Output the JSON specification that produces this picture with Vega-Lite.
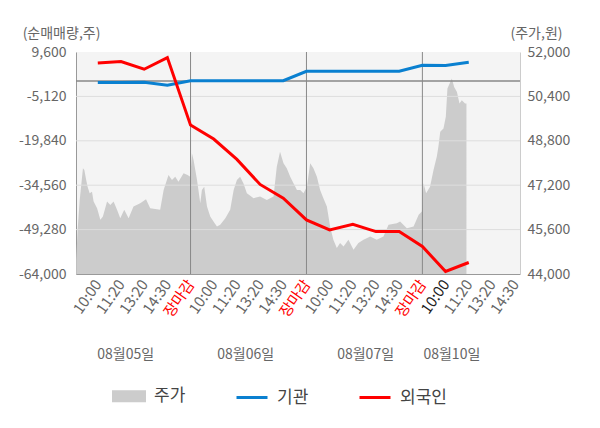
{
  "$schema": "https://vega.github.io/schema/vega-lite/v6.json",
  "width": 444,
  "height": 222,
  "autosize": {"type": "none"},
  "padding": {"left": 76, "top": 52, "right": 80, "bottom": 154},
  "background": "white",
  "datasets": {
    "price": [
      {"t": 0.07, "price": 44514}, {"t": 0.13, "price": 45592}, {"t": 0.22, "price": 46670},
      {"t": 0.36, "price": 47809}, {"t": 0.42, "price": 47748}, {"t": 0.5, "price": 47389},
      {"t": 0.56, "price": 47148}, {"t": 0.65, "price": 46911}, {"t": 0.75, "price": 46968},
      {"t": 0.82, "price": 46609}, {"t": 0.97, "price": 46372}, {"t": 1.11, "price": 45951},
      {"t": 1.22, "price": 46070}, {"t": 1.4, "price": 46609}, {"t": 1.54, "price": 46490},
      {"t": 1.68, "price": 46609}, {"t": 1.83, "price": 46311}, {"t": 1.97, "price": 46012},
      {"t": 2.14, "price": 46311}, {"t": 2.33, "price": 46012}, {"t": 2.54, "price": 46429},
      {"t": 2.83, "price": 46552}, {"t": 3.08, "price": 46695}, {"t": 3.26, "price": 46372},
      {"t": 3.69, "price": 46311}, {"t": 3.84, "price": 47030}, {"t": 4.05, "price": 47569},
      {"t": 4.2, "price": 47389}, {"t": 4.34, "price": 47507}, {"t": 4.48, "price": 47328},
      {"t": 4.7, "price": 47630}, {"t": 4.87, "price": 47569}, {"t": 4.99, "price": 47507},
      {"t": 5.06, "price": 48348}, {"t": 5.13, "price": 48108}, {"t": 5.28, "price": 47389},
      {"t": 5.42, "price": 46552}, {"t": 5.49, "price": 47030}, {"t": 5.59, "price": 47148},
      {"t": 5.71, "price": 46429}, {"t": 5.85, "price": 46070}, {"t": 5.99, "price": 45890},
      {"t": 6.14, "price": 45710}, {"t": 6.28, "price": 45772}, {"t": 6.5, "price": 46012},
      {"t": 6.71, "price": 46311}, {"t": 6.86, "price": 47030}, {"t": 7.0, "price": 47389},
      {"t": 7.14, "price": 47507}, {"t": 7.28, "price": 47270}, {"t": 7.43, "price": 46911},
      {"t": 7.72, "price": 46731}, {"t": 8.0, "price": 46789}, {"t": 8.29, "price": 46670},
      {"t": 8.58, "price": 46789}, {"t": 8.72, "price": 47867}, {"t": 8.86, "price": 48406},
      {"t": 9.01, "price": 47989}, {"t": 9.15, "price": 47809}, {"t": 9.3, "price": 47507},
      {"t": 9.44, "price": 47270}, {"t": 9.59, "price": 47030}, {"t": 9.73, "price": 47030},
      {"t": 9.87, "price": 46911}, {"t": 10.02, "price": 47148}, {"t": 10.16, "price": 47989},
      {"t": 10.3, "price": 47809}, {"t": 10.45, "price": 47507}, {"t": 10.59, "price": 47030},
      {"t": 10.73, "price": 46731}, {"t": 10.88, "price": 46429}, {"t": 11.02, "price": 45710},
      {"t": 11.16, "price": 45233}, {"t": 11.31, "price": 44934}, {"t": 11.45, "price": 45114},
      {"t": 11.6, "price": 44992}, {"t": 11.81, "price": 45233}, {"t": 12.03, "price": 44873},
      {"t": 12.24, "price": 45114}, {"t": 12.46, "price": 45233}, {"t": 12.75, "price": 45351},
      {"t": 13.03, "price": 45233}, {"t": 13.32, "price": 45351}, {"t": 13.54, "price": 45772},
      {"t": 13.9, "price": 45833}, {"t": 14.04, "price": 45890}, {"t": 14.33, "price": 45653},
      {"t": 14.62, "price": 45710}, {"t": 14.84, "price": 46131}, {"t": 14.98, "price": 46250},
      {"t": 15.05, "price": 47270}, {"t": 15.16, "price": 46911}, {"t": 15.33, "price": 47148},
      {"t": 15.48, "price": 47748}, {"t": 15.62, "price": 48226}, {"t": 15.69, "price": 48586},
      {"t": 15.77, "price": 49125}, {"t": 15.91, "price": 49247}, {"t": 16.01, "price": 49664},
      {"t": 16.08, "price": 50685}, {"t": 16.27, "price": 51044}, {"t": 16.37, "price": 50742},
      {"t": 16.49, "price": 50562}, {"t": 16.6, "price": 50145}, {"t": 16.7, "price": 50264},
      {"t": 16.84, "price": 50145}, {"t": 16.9, "price": 50145}
    ],
    "flow": [
      {"t": 1, "s": "기관", "v": -520}, {"t": 2, "s": "기관", "v": -520},
      {"t": 3, "s": "기관", "v": -450}, {"t": 4, "s": "기관", "v": -1400},
      {"t": 5, "s": "기관", "v": 100}, {"t": 6, "s": "기관", "v": 100},
      {"t": 7, "s": "기관", "v": 100}, {"t": 8, "s": "기관", "v": 100},
      {"t": 9, "s": "기관", "v": 100}, {"t": 10, "s": "기관", "v": 3220},
      {"t": 11, "s": "기관", "v": 3220}, {"t": 12, "s": "기관", "v": 3220},
      {"t": 13, "s": "기관", "v": 3220}, {"t": 14, "s": "기관", "v": 3220},
      {"t": 15, "s": "기관", "v": 5200}, {"t": 16, "s": "기관", "v": 5150},
      {"t": 17, "s": "기관", "v": 6190},
      {"t": 1, "s": "외국인", "v": 5960}, {"t": 2, "s": "외국인", "v": 6420},
      {"t": 3, "s": "외국인", "v": 3880}, {"t": 4, "s": "외국인", "v": 7750},
      {"t": 5, "s": "외국인", "v": -14640}, {"t": 6, "s": "외국인", "v": -19270},
      {"t": 7, "s": "외국인", "v": -26000}, {"t": 8, "s": "외국인", "v": -34300},
      {"t": 9, "s": "외국인", "v": -38850}, {"t": 10, "s": "외국인", "v": -46060},
      {"t": 11, "s": "외국인", "v": -49360}, {"t": 12, "s": "외국인", "v": -47540},
      {"t": 13, "s": "외국인", "v": -49930}, {"t": 14, "s": "외국인", "v": -49930},
      {"t": 15, "s": "외국인", "v": -54890}, {"t": 16, "s": "외국인", "v": -63150},
      {"t": 17, "s": "외국인", "v": -60180}
    ],
    "grid": [{"v": -5120}, {"v": -19840}, {"v": -34560}, {"v": -49280}],
    "zero": [{"v": 0}],
    "days": [{"t": 5}, {"t": 10}, {"t": 15}]
  },
  "layer": [
    {
      "data": {"name": "price"},
      "mark": {"type": "area", "interpolate": "linear"},
      "encoding": {
        "x": {
          "field": "t",
          "type": "quantitative",
          "scale": {"domain": [0.06, 19.21], "nice": false, "zero": false},
          "axis": {
            "orient": "bottom",
            "values": [2.18, 7.36, 12.53, 16.25],
            "labelExpr": "datum.value < 5 ? '08월05일' : datum.value < 10 ? '08월06일' : datum.value < 15 ? '08월07일' : '08월10일'",
            "ticks": false,
            "domain": false,
            "grid": false,
            "title": null,
            "labelFontSize": 14,
            "labelColor": "#666666",
            "labelBaseline": "alphabetic",
            "labelPadding": 84,
            "labelFlush": false,
            "labelOverlap": false
          }
        },
        "y": {
          "field": "price",
          "type": "quantitative",
          "scale": {"domain": [44000, 52000], "nice": false, "zero": false},
          "axis": {
            "orient": "right",
            "values": [44000, 45600, 47200, 48800, 50400, 52000],
            "format": ",.0f",
            "ticks": false,
            "grid": false,
            "domainColor": "#cccccc",
            "labelPadding": 7,
            "labelFontSize": 14,
            "labelColor": "#666666",
            "title": "(주가,원)",
            "titleAngle": 0,
            "titleX": 16,
            "titleY": -19,
            "titleAlign": "center",
            "titleBaseline": "middle",
            "titleFontSize": 14,
            "titleFontWeight": "normal",
            "titleColor": "#666666"
          }
        },
        "y2": {"datum": 44000},
        "color": {
          "datum": "주가",
          "type": "nominal",
          "scale": {"domain": ["주가", "기관", "외국인"], "range": ["#cccccc", "#0a80d0", "#ff0000"]},
          "legend": {
            "orient": "none",
            "legendX": 36,
            "legendY": 327,
            "direction": "horizontal",
            "title": null,
            "padding": 0,
            "labelFontSize": 17,
            "labelColor": "#444444",
            "labelOffset": 8,
            "columnPadding": 44,
            "symbolSize": 961,
            "encode": {
              "symbols": {
                "update": {
                  "shape": {"signal": "datum.label === '주가' ? 'M-1,-0.29H1V0.29H-1Z' : 'stroke'"},
                  "fill": {"signal": "datum.label === '주가' ? '#cccccc' : 'transparent'"},
                  "stroke": {"signal": "datum.label === '주가' ? 'transparent' : scale('color', datum.value)"},
                  "strokeWidth": {"value": 3},
                  "opacity": {"value": 1}
                }
              }
            }
          }
        }
      }
    },
    {
      "data": {"name": "grid"},
      "mark": {"type": "rule", "color": "#dddddd", "strokeWidth": 1},
      "encoding": {
        "y": {"field": "v", "type": "quantitative", "scale": {"domain": [-64000, 9600], "nice": false, "zero": false}, "axis": null}
      }
    },
    {
      "data": {"name": "zero"},
      "mark": {"type": "rule", "color": "#888888", "strokeWidth": 1.5},
      "encoding": {
        "y": {"field": "v", "type": "quantitative", "scale": {"domain": [-64000, 9600], "nice": false, "zero": false}, "axis": null}
      }
    },
    {
      "data": {"name": "days"},
      "mark": {"type": "rule", "color": "#888888", "strokeWidth": 1},
      "encoding": {
        "x": {"field": "t", "type": "quantitative", "axis": null}
      }
    },
    {
      "data": {"name": "flow"},
      "mark": {"type": "line", "strokeWidth": 3, "interpolate": "linear"},
      "encoding": {
        "x": {
          "field": "t",
          "type": "quantitative",
          "axis": {
            "orient": "bottom",
            "values": [1, 2, 3, 4, 5, 6, 7, 8, 9, 10, 11, 12, 13, 14, 15, 16, 17, 18, 19],
            "labelExpr": "['장마감', '10:00', '11:20', '13:20', '14:30'][datum.value % 5]",
            "labelAngle": -55,
            "labelAlign": "right",
            "labelBaseline": "middle",
            "labelFontSize": 15,
            "labelColor": {"expr": "datum.value % 5 === 0 ? '#ff0000' : (datum.value === 16 ? '#222222' : '#666666')"},
            "labelPadding": 7,
            "labelOverlap": false,
            "labelFlush": false,
            "labelBound": false,
            "ticks": false,
            "grid": false,
            "domainColor": "#999999",
            "title": null
          }
        },
        "y": {
          "field": "v",
          "type": "quantitative",
          "scale": {"domain": [-64000, 9600], "nice": false, "zero": false},
          "axis": {
            "orient": "left",
            "values": [9600, -5120, -19840, -34560, -49280, -64000],
            "format": ",.0f",
            "labelExpr": "replace(datum.label, '\u2212', '-')",
            "ticks": false,
            "grid": false,
            "domainColor": "#999999",
            "labelPadding": 10,
            "labelFontSize": 14,
            "labelColor": "#666666",
            "title": "(순매매량,주)",
            "titleAngle": 0,
            "titleX": -15,
            "titleY": -19,
            "titleAlign": "center",
            "titleBaseline": "middle",
            "titleFontSize": 14,
            "titleFontWeight": "normal",
            "titleColor": "#666666"
          }
        },
        "color": {"field": "s", "type": "nominal", "legend": null}
      }
    }
  ],
  "resolve": {"scale": {"y": "independent"}, "axis": {"x": "independent"}},
  "config": {
    "font": "Noto Sans CJK KR",
    "view": {"fill": "#f4f4f4", "stroke": null}
  }
}
